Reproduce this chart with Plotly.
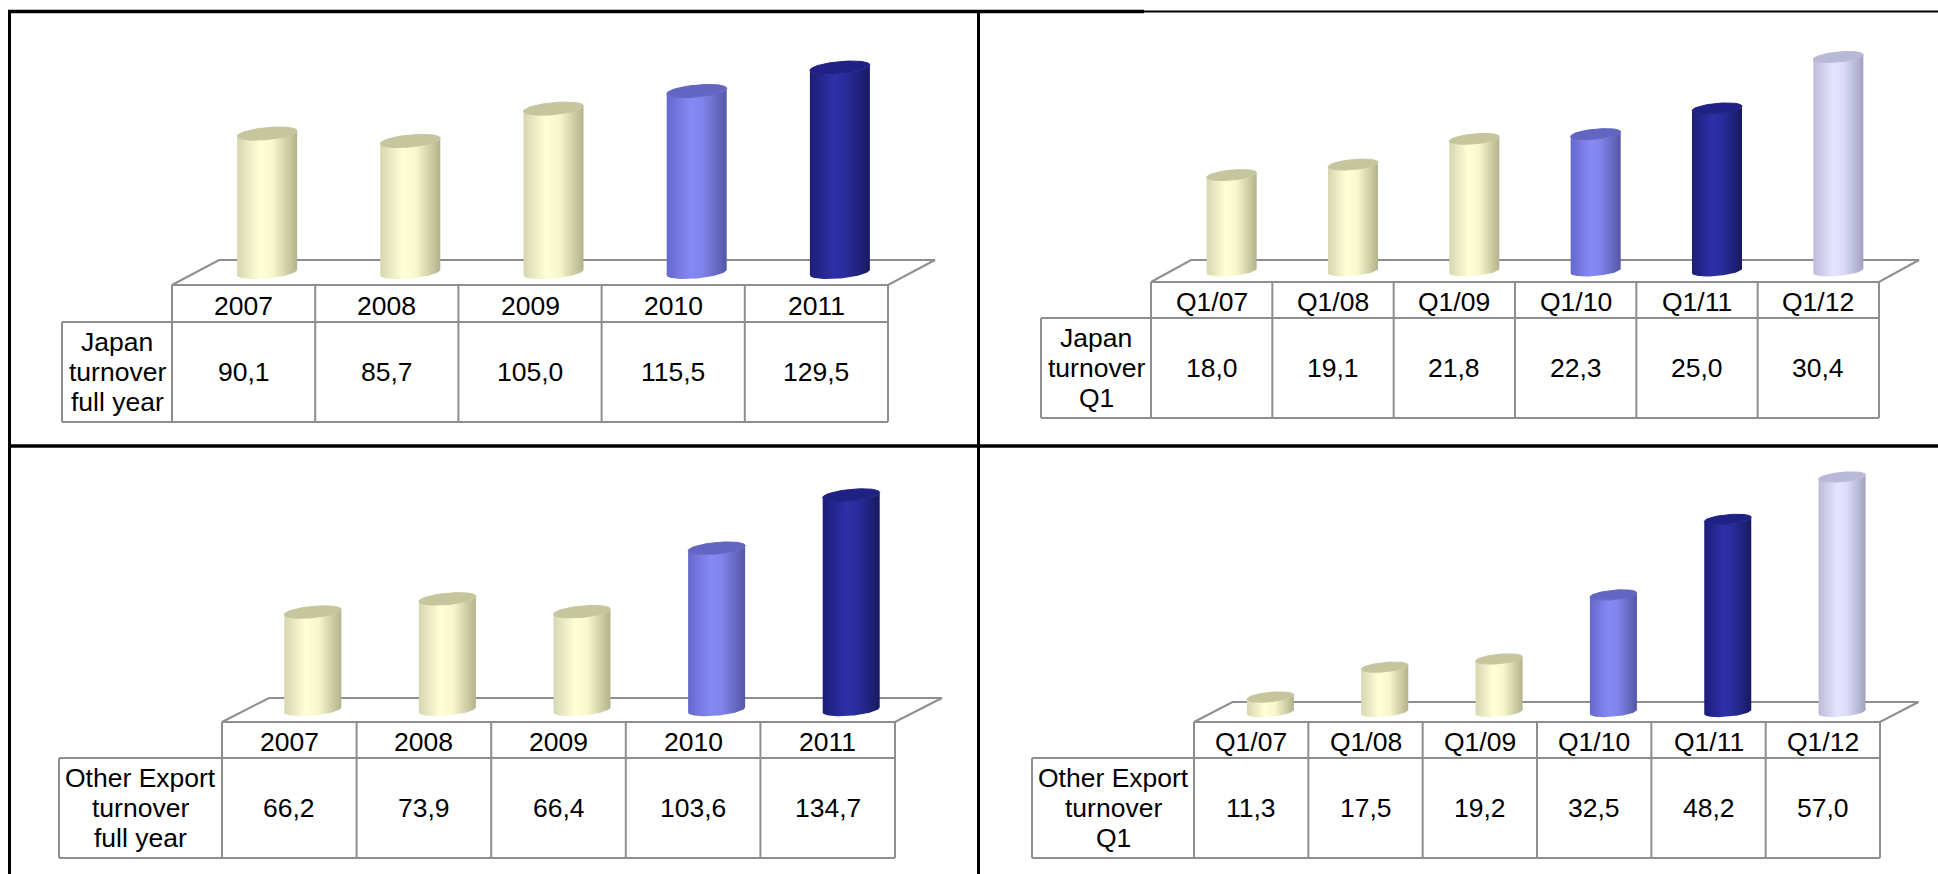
import numpy as np
import plotly.graph_objects as go

W, H = 1938, 874

# ---- data -------------------------------------------------------------
years = ["2007", "2008", "2009", "2010", "2011"]
quarters = ["Q1/07", "Q1/08", "Q1/09", "Q1/10", "Q1/11", "Q1/12"]

japan_full_year = [90.1, 85.7, 105.0, 115.5, 129.5]
japan_q1 = [18.0, 19.1, 21.8, 22.3, 25.0, 30.4]
export_full_year = [66.2, 73.9, 66.4, 103.6, 134.7]
export_q1 = [11.3, 17.5, 19.2, 32.5, 48.2, 57.0]

label_japan_fy = ["Japan", "turnover", "full year"]
label_japan_q1 = ["Japan", "turnover", "Q1"]
label_export_fy = ["Other Export", "turnover", "full year"]
label_export_q1 = ["Other Export", "turnover", "Q1"]

colors_fy = ["cream", "cream", "cream", "blue", "navy"]
colors_q1 = ["cream", "cream", "cream", "blue", "navy", "lavender"]

# ---- cylinder palettes: side gradient (left -> right) and top face ------
PALETTE = {
    "cream": ([[0, "#d6d6b0"], [0.38, "#ffffd8"], [0.6, "#f7f7cc"], [1, "#b2b28c"]], "#c6c69e"),
    "blue": ([[0, "#6569cc"], [0.4, "#8589f4"], [0.6, "#7f83ea"], [1, "#5457a6"]], "#6266c2"),
    "navy": ([[0, "#1c1e76"], [0.4, "#2d30a8"], [0.6, "#292c9c"], [1, "#181a60"]], "#1f2184"),
    "lavender": ([[0, "#bcbcda"], [0.4, "#e4e4ff"], [0.6, "#dcdcfa"], [1, "#a0a0c0"]], "#b8b8d8"),
}

FONT = "Liberation Sans, Arial, Helvetica, sans-serif"
FSIZE = 26.5
GRID = "#8e8e8e"

# ---- panel layout (pixel geometry of each quadrant) ---------------------
panels = [
    dict(cats=years, vals=japan_full_year, label=label_japan_fy, colors=colors_fy,
         box=(11, 977, 13, 444), label_left=62, data_left=172, data_right=888,
         header_top=285, header_h=37, row_h=100, floor_depth=25, floor_shift=47,
         bar_w=60, y0=284.5, ppu=1.675),
    dict(cats=quarters, vals=japan_q1, label=label_japan_q1, colors=colors_q1,
         box=(981, 1938, 13, 444), label_left=1041, data_left=1151, data_right=1879,
         header_top=282, header_h=36, row_h=100, floor_depth=22, floor_shift=40,
         bar_w=50, y0=346.4, ppu=9.52),
    dict(cats=years, vals=export_full_year, label=label_export_fy, colors=colors_fy,
         box=(11, 977, 448, 874), label_left=59, data_left=222, data_right=895,
         header_top=722, header_h=36, row_h=100, floor_depth=24, floor_shift=47,
         bar_w=57, y0=725.1, ppu=1.708),
    dict(cats=quarters, vals=export_q1, label=label_export_q1, colors=colors_q1,
         box=(981, 1938, 448, 874), label_left=1032, data_left=1194, data_right=1880,
         header_top=722, header_h=36, row_h=100, floor_depth=20, floor_shift=38.5,
         bar_w=47, y0=751.4, ppu=4.814),
]


def ellipse(cx, cy, rx, ry, tilt, t):
    return cx + rx * np.cos(t), cy + ry * np.sin(t) + tilt * np.cos(t)


def fmt(v):
    return f"{v:.1f}".replace(".", ",")


fig = go.Figure()
layout = dict(
    width=W, height=H, margin=dict(l=0, r=0, t=0, b=0),
    paper_bgcolor="white", plot_bgcolor="rgba(0,0,0,0)", showlegend=False,
)
annotations = []

for k, p in enumerate(panels, start=1):
    n = len(p["cats"])
    L, R, T, B = p["box"]
    col_w = (p["data_right"] - p["data_left"]) / n

    def xu(px):
        return (px - p["data_left"]) / col_w - 0.5

    xa = f"x{k}"
    ya_tab = f"y{2 * k - 1}"   # table / floor axis (pixel rows below header top)
    ya_bar = f"y{2 * k}"       # value axis for the cylinders
    xdom = [L / W, R / W]
    ydom = [1 - B / H, 1 - T / H]

    hidden = dict(visible=False, showgrid=False, zeroline=False, fixedrange=True)
    layout[f"xaxis{k}"] = dict(hidden, domain=xdom, range=[xu(L), xu(R)], anchor=ya_tab)
    layout[f"yaxis{2 * k - 1}"] = dict(hidden, domain=ydom, anchor=xa,
                                      range=[B - p["header_top"], T - p["header_top"]])
    layout[f"yaxis{2 * k}"] = dict(hidden, domain=ydom, anchor=xa, overlaying=ya_tab,
                                  range=[(p["y0"] - B) / p["ppu"], (p["y0"] - T) / p["ppu"]])

    # floor (parallelogram behind the table header)
    sx = p["floor_shift"] / col_w
    d = p["floor_depth"]
    fig.add_trace(go.Scatter(
        x=[-0.5, n - 0.5, n - 0.5 + sx, -0.5 + sx, -0.5],
        y=[0, 0, -d, -d, 0], mode="lines", fill="toself", fillcolor="white",
        line=dict(color=GRID, width=2), hoverinfo="skip", xaxis=xa, yaxis=ya_tab))

    # table grid
    hh, rh = p["header_h"], p["row_h"]
    xl = xu(p["label_left"])
    gx, gy = [], []
    for yy, x0 in ((hh, xl), (hh + rh, xl)):
        gx += [x0, n - 0.5, None]
        gy += [yy, yy, None]
    for i in range(n + 1):
        gx += [i - 0.5, i - 0.5, None]
        gy += [0, hh + rh, None]
    gx += [xl, xl, None]
    gy += [hh, hh + rh, None]
    fig.add_trace(go.Scatter(x=gx, y=gy, mode="lines", line=dict(color=GRID, width=2),
                             hoverinfo="skip", xaxis=xa, yaxis=ya_tab))

    # cylinders
    ppu = p["ppu"]
    base = (p["y0"] - (p["header_top"] - d / 2)) / ppu
    rx = p["bar_w"] / 2 / col_w
    ry = p["bar_w"] * 0.1 / ppu
    tilt = p["bar_w"] * 0.045 / ppu
    off = sx / 2
    for i, (v, c) in enumerate(zip(p["vals"], p["colors"])):
        cx = i + off
        scale, top_col = PALETTE[c]
        bx, by = ellipse(cx, base, rx, ry, tilt, np.linspace(np.pi, 2 * np.pi, 48))
        tx, ty = ellipse(cx, v, rx, ry, tilt, np.linspace(2 * np.pi, np.pi, 48))
        fig.add_trace(go.Scatter(
            x=np.concatenate([bx, tx]), y=np.concatenate([by, ty]),
            mode="lines", fill="toself", line=dict(width=0),
            fillgradient=dict(type="horizontal", colorscale=scale, start=cx - rx, stop=cx + rx),
            hoverinfo="skip", xaxis=xa, yaxis=ya_bar))
        ex, ey = ellipse(cx, v, rx, ry, tilt, np.linspace(0, 2 * np.pi, 72))
        fig.add_trace(go.Scatter(
            x=ex, y=ey, mode="lines", fill="toself", fillcolor=top_col,
            line=dict(width=1, color=top_col), hoverinfo="skip", xaxis=xa, yaxis=ya_bar))

    # table text
    txt = dict(xref=xa, yref=ya_tab, showarrow=False,
               font=dict(family=FONT, size=FSIZE, color="black"),
               xanchor="center", yanchor="middle")
    for i, (cat, v) in enumerate(zip(p["cats"], p["vals"])):
        annotations.append(dict(txt, x=i, y=hh / 2 + 2, text=cat))
        annotations.append(dict(txt, x=i, y=hh + rh / 2, text=fmt(v)))
    xc = (xl - 0.5) / 2
    for j, line in enumerate(p["label"]):
        annotations.append(dict(txt, x=xc, y=hh + rh / 2 + (j - 1) * 30, text=line))

# quadrant frame
def hline(y, x0, x1, w, color="black"):
    return dict(type="line", xref="paper", yref="paper", x0=x0 / W, x1=x1 / W,
                y0=1 - y / H, y1=1 - y / H, line=dict(color=color, width=w))


def vline(x, y0, y1, w, color="black"):
    return dict(type="line", xref="paper", yref="paper", x0=x / W, x1=x / W,
                y0=1 - y0 / H, y1=1 - y1 / H, line=dict(color=color, width=w))


shapes = [
    hline(11.5, 8, 1144, 3.5),
    hline(11.5, 1144, 1938, 2),
    vline(9.5, 10, 874, 3),
    vline(978.5, 10, 874, 3),
    hline(446, 8, 1938, 3.5),
]

layout["annotations"] = annotations
layout["shapes"] = shapes
fig.update_layout(**layout)
fig.write_html("out.html")
